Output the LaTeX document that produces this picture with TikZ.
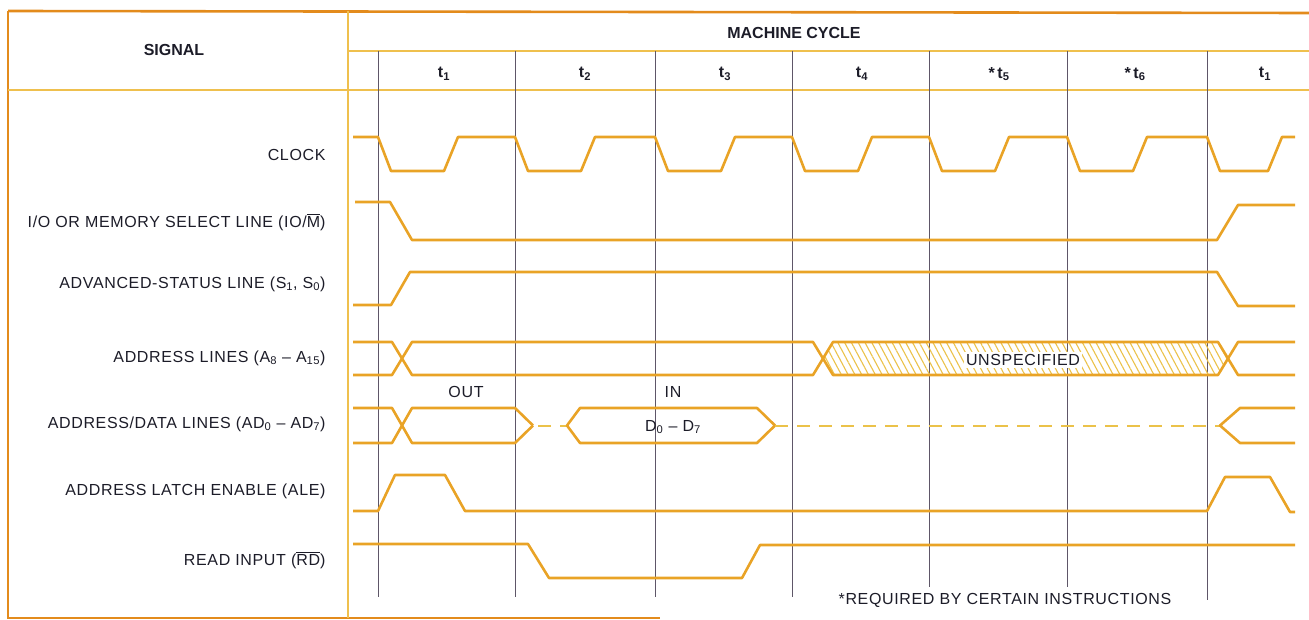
\documentclass[tikz,border=0pt]{standalone}
\usepackage{amsmath}
\usepackage{fontspec}
\setmainfont{Liberation Sans}
\usepackage{tikz}
\usetikzlibrary{patterns.meta}
\definecolor{wavecol}{HTML}{E9A326}
\definecolor{framecol}{HTML}{E38B1C}
\definecolor{rulecol}{HTML}{EFC04E}
\definecolor{gridcol}{HTML}{5E5668}
\definecolor{hatchcol}{HTML}{EBC24A}
\definecolor{inkcol}{HTML}{1C1C28}
\newcommand{\negsig}[1]{\(\overline{\hbox{#1}}\)}

\begin{document}
\begin{tikzpicture}[x=1pt, y=-1pt,
  wave/.style={draw=wavecol, line width=2.6pt, line join=round},
  dashwave/.style={draw=hatchcol, line width=2pt, dash pattern=on 13pt off 9pt},
  gridline/.style={draw=gridcol, line width=0.9pt},
  rule/.style={draw=rulecol, line width=1.6pt},
  frame/.style={draw=framecol, line width=2.6pt},
  lbl/.style={font=\fontsize{16}{19}\selectfont\addfontfeature{LetterSpace=4}, text=inkcol},
  siglabel/.style={lbl, anchor=east},
  hdr/.style={font=\fontsize{16}{19}\selectfont\bfseries, text=inkcol}
]
\useasboundingbox (0,0) rectangle (1309,620);

% frame and header rules
\draw[frame] (8,11) -- (1309,13);
\draw[frame] (8,11) -- (8,618) -- (660,618);
\draw[rule] (348,11) -- (348,618);
\draw[rule] (348,51) -- (1309,51);
\draw[rule] (8,90) -- (1309,90);

% state lines
\draw[gridline] (378,51) -- (378,597);
\draw[gridline] (515,51) -- (515,597);
\draw[gridline] (655,51) -- (655,597);
\draw[gridline] (792,51) -- (792,597);
\draw[gridline] (929,51) -- (929,587);
\draw[gridline] (1067,51) -- (1067,587);
\draw[gridline] (1207,51) -- (1207,600);

% header
\node[hdr] (signal) at (174,50) {SIGNAL};
\node[hdr] (cycle) at (794,33) {MACHINE CYCLE};
\node[hdr] (ta) at (444,74) {t\textsubscript{1}};
\node[hdr] (tb) at (585,74) {t\textsubscript{2}};
\node[hdr] (tc) at (725,74) {t\textsubscript{3}};
\node[hdr] (td) at (862,74) {t\textsubscript{4}};
\node[hdr] (te) at (999,74) {*\,t\textsubscript{5}};
\node[hdr] (tf) at (1135,74) {*\,t\textsubscript{6}};
\node[hdr] (tg) at (1265,74) {t\textsubscript{1}};

% signal names
\node[siglabel] (clk) at (329,155) {CLOCK};
\node[siglabel] (iom) at (329,222) {I/O OR MEMORY SELECT LINE (IO/\negsig{M})};
\node[siglabel] (stat) at (329,284) {ADVANCED-STATUS LINE (S\textsubscript{1}, S\textsubscript{0})};
\node[siglabel] (addr) at (329,358) {ADDRESS LINES (A\textsubscript{8} -- A\textsubscript{15})};
\node[siglabel] (adbus) at (329,424) {ADDRESS/DATA LINES (AD\textsubscript{0} -- AD\textsubscript{7})};
\node[siglabel] (ale) at (329,491) {ADDRESS LATCH ENABLE (ALE)};
\node[siglabel] (rd) at (329,560) {READ INPUT (\negsig{RD})};

% clock
\draw[wave] (353,137) -- (378,137) -- (391,171) -- (444,171) -- (458,137) -- (515,137)
  -- (528,171) -- (581,171) -- (595,137) -- (655,137) -- (668,171) -- (721,171) -- (735,137)
  -- (792,137) -- (805,171) -- (858,171) -- (872,137) -- (929,137) -- (942,171) -- (995,171)
  -- (1009,137) -- (1067,137) -- (1080,171) -- (1133,171) -- (1147,137) -- (1207,137)
  -- (1220,171) -- (1268,171) -- (1282,137) -- (1295,137);

% IO/M and status
\draw[wave] (355,202) -- (390,202) -- (412,240) -- (1217,240) -- (1238,205) -- (1295,205);
\draw[wave] (353,305) -- (391,305) -- (410,272) -- (1217,272) -- (1238,306) -- (1295,306);

% address lines A8-A15
\fill[pattern={Lines[angle=-62,distance=6pt,line width=1.1pt]}, pattern color=hatchcol]
  (823,358.5) -- (833,342) -- (1218,342) -- (1228,358.5) -- (1218,375) -- (833,375) -- cycle;
\draw[wave] (353,342) -- (392,342) -- (412,375) -- (813,375) -- (833,342) -- (1218,342) -- (1238,375) -- (1295,375);
\draw[wave] (353,375) -- (392,375) -- (412,342) -- (813,342) -- (833,375) -- (1218,375) -- (1238,342) -- (1295,342);
\node[lbl, fill=white, inner sep=2pt] (unspec) at (1023,360) {UNSPECIFIED};

% address/data lines AD0-AD7
\draw[wave] (353,408) -- (392,408) -- (412,443) -- (515,443) -- (533,425.5);
\draw[wave] (353,443) -- (392,443) -- (412,408) -- (515,408) -- (533,425.5);
\draw[dashwave] (538,425.5) -- (567,425.5);
\draw[wave] (567,425.5) -- (580,408) -- (757,408) -- (775,425.5) -- (757,443) -- (580,443) -- cycle;
\draw[dashwave] (775,425.5) -- (1220,425.5);
\draw[wave] (1295,408) -- (1240,408) -- (1220,425.5) -- (1240,443) -- (1295,443);
\node[lbl] (out) at (466,392) {OUT};
\node[lbl] (in) at (673,392) {IN};
\node[lbl] (data) at (673,427) {D\textsubscript{0} -- D\textsubscript{7}};

% ALE and RD
\draw[wave] (353,511) -- (378,511) -- (395,475) -- (445,475) -- (465,511) -- (1207,511)
  -- (1225,477) -- (1270,477) -- (1290,512) -- (1295,512);
\draw[wave] (353,544) -- (528,544) -- (549,578) -- (742,578) -- (760,545) -- (1295,545);

\node[lbl] (note) at (1005,600) {*REQUIRED BY CERTAIN INSTRUCTIONS};
\end{tikzpicture}
\end{document}
